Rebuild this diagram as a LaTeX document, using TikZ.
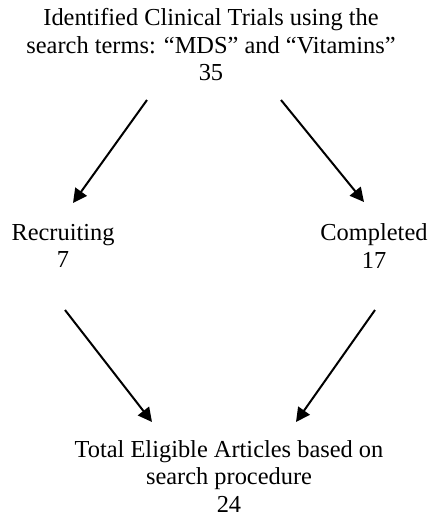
\documentclass[tikz,border=0pt]{standalone}
\usepackage{fontspec}
\setmainfont{Liberation Serif}
\usetikzlibrary{arrows.meta}
\begin{document}
\begin{tikzpicture}[x=0.5pt,y=-0.5pt,
  txt/.style={align=center,inner sep=0pt,anchor=north,font=\fontsize{12.2}{13.75}\selectfont},
  arr/.style={draw,line width=1pt,-{Triangle[length=7pt,width=7pt]}}]
\useasboundingbox (0,0) rectangle (430,516);
\node[txt] (top) at (211,8.3) {Identified Clinical Trials using the\\search terms: ``MDS'' and ``Vitamins''\\35};
\node[txt] (rec) at (63,223.5) {Recruiting\\7};
\node[txt] (comp) at (374,223.5) {Completed\\17};
\node[txt] (total) at (229,440) {Total Eligible Articles based on\\search procedure\\24};

\coordinate (a1) at (147,100);
\coordinate (b1) at (73,203);
\coordinate (a2) at (281,100);
\coordinate (b2) at (364,202);
\coordinate (a3) at (65,310);
\coordinate (b3) at (152,422);
\coordinate (a4) at (375,310);
\coordinate (b4) at (296,422);

\path[arr] (a1) -- (b1);
\path[arr] (a2) -- (b2);
\path[arr] (a3) -- (b3);
\path[arr] (a4) -- (b4);
\end{tikzpicture}
\end{document}
